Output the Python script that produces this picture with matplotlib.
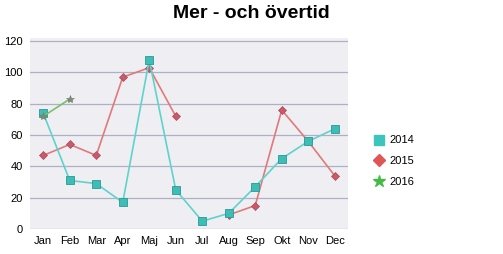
import numpy as np
import matplotlib.pyplot as plt
from matplotlib.lines import Line2D

plt.rcParams['font.family'] = ['Liberation Sans', 'DejaVu Sans']

months = ['Jan', 'Feb', 'Mar', 'Apr', 'Maj', 'Jun', 'Jul', 'Aug', 'Sep', 'Okt', 'Nov', 'Dec']
y2014 = [74, 31, 29, 17, 108, 25, 5, 10, 27, 45, 56, 64]
y2015 = [47, 54, 47, 97, 103, 72, np.nan, 9, 15, 76, 56, 34]
y2016 = [72, 83]

fig = plt.figure(figsize=(5.03, 2.54), dpi=100)
ax = fig.add_axes([30 / 503, 25 / 254, 318 / 503, 191 / 254])
ax.set_facecolor('#eeeef3')

x = np.arange(len(months))
ax.plot(x, y2014, color='#5fd3cb', lw=1.2, marker='s', ms=6,
        mfc='#3dbdb5', mec='#2a9a94', mew=0.6, label='2014', zorder=3)
ax.plot(x, y2015, color='#e07a7a', lw=1.2, marker='D', ms=4.5,
        mfc='#c85a6a', mec='#a84a5a', mew=0.5, label='2015', zorder=2)
ax.plot(x[:len(y2016)], y2016, color='#77c266', lw=1.2, marker='*', ms=6,
        mfc='#808a7a', mec='#707a6a', mew=0.4, label='2016', zorder=4)

ax.set_xlim(-0.5, 11.5)
ax.set_ylim(0, 122)
ax.set_yticks(range(0, 121, 20))
ax.set_xticks(x)
ax.set_xticklabels(months)
ax.yaxis.grid(True, color='#b0b0c4', lw=0.9)
ax.set_axisbelow(True)
for s in ax.spines.values():
    s.set_visible(False)
ax.tick_params(length=0, labelsize=8, pad=5)

fig.text(0.5, 0.93, 'Mer - och övertid', ha='center', fontsize=14, fontweight='bold')

# legend: filled markers only
handles = [
    Line2D([], [], ls='', marker='s', ms=7, mfc='#3dc5bd', mec='#3dc5bd'),
    Line2D([], [], ls='', marker='D', ms=6, mfc='#e05555', mec='#e05555'),
    Line2D([], [], ls='', marker='*', ms=9, mfc='#44bb44', mec='#44bb44'),
]
fig.legend(handles, ['2014', '2015', '2016'], loc='center left',
           bbox_to_anchor=(363 / 503, 1 - 161 / 254), frameon=False,
           fontsize=8, handlelength=1, handletextpad=0.5, labelspacing=0.95)

plt.savefig('out.png', dpi=100)
